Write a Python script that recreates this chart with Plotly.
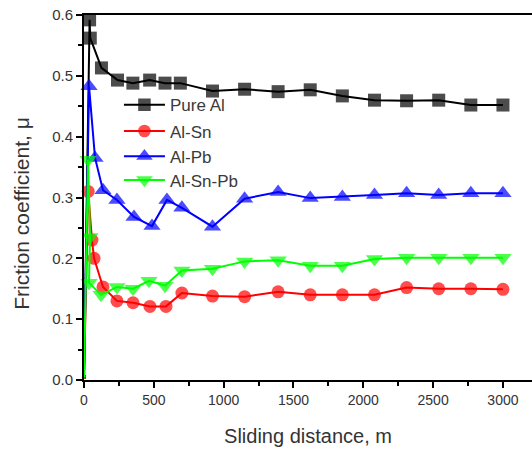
import plotly.graph_objects as go

# Sliding distance (m) and friction coefficient for each alloy
pure_al_x = [0, 40, 45, 125, 240, 350, 470, 580, 690, 920, 1150, 1390, 1620, 1850, 2080, 2310, 2540, 2770, 3000]
pure_al_y = [0.005, 0.592, 0.562, 0.513, 0.493, 0.488, 0.493, 0.488, 0.488, 0.475, 0.478, 0.474, 0.477, 0.467, 0.460, 0.459, 0.460, 0.452, 0.452]

al_sn_x = [0, 30, 57, 72, 136, 236, 351, 472, 587, 701, 920, 1150, 1390, 1620, 1850, 2080, 2310, 2540, 2770, 3000]
al_sn_y = [0.005, 0.31, 0.23, 0.20, 0.153, 0.130, 0.127, 0.121, 0.121, 0.143, 0.138, 0.137, 0.145, 0.140, 0.140, 0.140, 0.152, 0.150, 0.150, 0.149]

al_pb_x = [0, 36, 79, 136, 236, 358, 487, 594, 701, 920, 1150, 1390, 1620, 1850, 2080, 2310, 2540, 2770, 3000]
al_pb_y = [0.005, 0.483, 0.365, 0.312, 0.296, 0.268, 0.253, 0.296, 0.283, 0.252, 0.298, 0.309, 0.299, 0.301, 0.304, 0.307, 0.304, 0.307, 0.307]

al_sn_pb_x = [0, 29, 43, 36, 122, 236, 351, 465, 580, 701, 920, 1150, 1390, 1620, 1850, 2080, 2310, 2540, 2770, 3000]
al_sn_pb_y = [0.005, 0.362, 0.235, 0.160, 0.140, 0.153, 0.150, 0.163, 0.155, 0.180, 0.183, 0.195, 0.197, 0.188, 0.188, 0.199, 0.201, 0.201, 0.201, 0.201]

x_ticks = [0, 500, 1000, 1500, 2000, 2500, 3000]
y_ticks = [0.0, 0.1, 0.2, 0.3, 0.4, 0.5, 0.6]
x_title = "Sliding distance, m"
y_title = "Friction coefficient, μ"

series = [
    ("Pure Al", pure_al_x, pure_al_y, "#000000", "square", 13),
    ("Al-Sn", al_sn_x, al_sn_y, "#ff0000", "circle", 13),
    ("Al-Pb", al_pb_x, al_pb_y, "#0000ff", "triangle-up", 15),
    ("Al-Sn-Pb", al_sn_pb_x, al_sn_pb_y, "#00ff00", "triangle-down", 15),
]
legend_names = ["legend", "legend2", "legend3", "legend4"]
legend_y = [0.753, 0.681, 0.612, 0.547]

fig = go.Figure()
for (name, xs, ys, color, sym, size), lg in zip(series, legend_names):
    sizes = [4] + [size] * (len(xs) - 1)
    fig.add_trace(go.Scatter(
        x=xs, y=ys, name=name, mode="lines+markers",
        line=dict(color=color, width=2),
        marker=dict(symbol=sym, size=sizes, color=color, line=dict(width=0)),
        cliponaxis=False, legend=lg,
    ))

font_family = "Liberation Sans, Arial, sans-serif"
layout_legends = {}
for lg, ly in zip(legend_names, legend_y):
    layout_legends[lg] = dict(
        x=0.078, y=ly, xanchor="left", yanchor="middle",
        bgcolor="rgba(0,0,0,0)", font=dict(size=17, color="#3a3a3a"),
        itemwidth=41, borderwidth=0,
    )

fig.update_layout(
    width=532, height=451,
    margin=dict(l=84, r=0, t=15, b=71),
    paper_bgcolor="white", plot_bgcolor="white",
    font=dict(family=font_family, color="#333333", size=14),
    showlegend=True,
    **layout_legends,
    xaxis=dict(
        range=[0, 3208], tickvals=x_ticks,
        ticks="outside", ticklen=6, tickwidth=1.5, tickcolor="#000",
        minor=dict(dtick=250, tick0=0, ticks="outside", ticklen=4, tickcolor="#000"),
        showline=True, linecolor="#000", linewidth=2, mirror=True,
        showgrid=False, zeroline=False,
        tickfont=dict(size=14, color="#333333"),
        title=dict(text=x_title, font=dict(size=20, color="#333333"), standoff=22),
    ),
    yaxis=dict(
        range=[0, 0.6], tickvals=y_ticks, tickformat=".1f",
        ticks="outside", ticklen=6, tickwidth=1.5, tickcolor="#000",
        minor=dict(dtick=0.05, tick0=0, ticks="outside", ticklen=4, tickcolor="#000"),
        showline=True, linecolor="#000", linewidth=2, mirror=False,
        showgrid=False, zeroline=False,
        tickfont=dict(size=15, color="#333333"),
    ),
    annotations=[dict(
        text=y_title, textangle=-90, showarrow=False,
        xref="paper", yref="paper", x=-0.141, y=0.4575,
        xanchor="center", yanchor="middle",
        font=dict(size=21, color="#333333"),
    )],
)

fig.write_html("out.html")
